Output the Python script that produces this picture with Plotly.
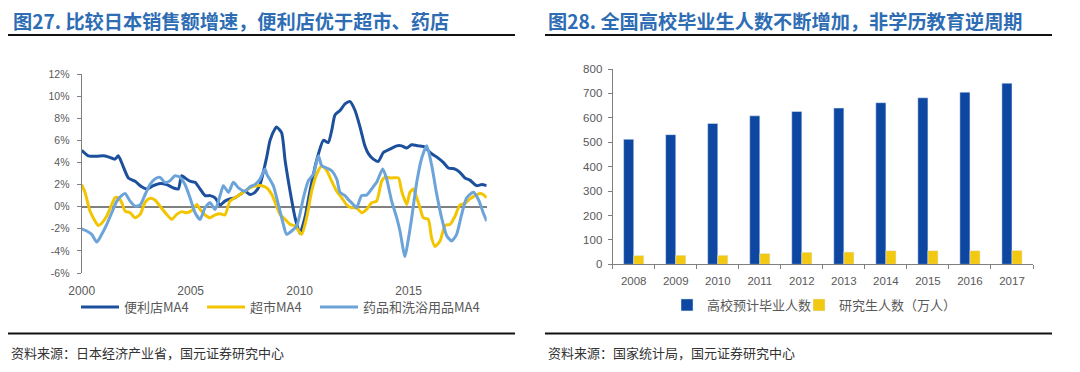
import plotly.graph_objects as go

# ---------------- data: left chart (Japan retail sales growth, MA4, %) ----------------
cvs_t = [2000.00, 2000.31, 2000.69, 2000.99, 2001.22, 2001.53, 2001.68, 2001.91, 2002.14, 2002.45,
         2002.75, 2002.98, 2003.29, 2003.59, 2003.90, 2004.20, 2004.43, 2004.59, 2004.74, 2004.97,
         2005.20, 2005.43, 2005.66, 2005.89, 2006.12, 2006.35, 2006.57, 2006.80, 2007.03, 2007.26,
         2007.49, 2007.72, 2007.95, 2008.18, 2008.33, 2008.49, 2008.64, 2008.87, 2008.94, 2009.17,
         2009.33, 2009.56, 2009.79, 2010.01, 2010.24, 2010.47, 2010.78, 2011.09, 2011.31, 2011.47,
         2011.62, 2011.85, 2012.08, 2012.31, 2012.54, 2012.77, 2012.99, 2013.15, 2013.38, 2013.61,
         2013.84, 2014.14, 2014.45, 2014.68, 2014.91, 2015.14, 2015.44, 2015.75, 2015.98, 2016.28,
         2016.59, 2016.82, 2017.13, 2017.35, 2017.58, 2017.81, 2018.12, 2018.35, 2018.58]
cvs_v = [5.1, 4.6, 4.55, 4.6, 4.5, 4.3, 4.6, 3.6, 2.6, 2.3,
         1.8, 1.6, 1.9, 2.1, 2.0, 1.7, 1.6, 2.8, 2.6, 2.3,
         2.2, 1.6, 1.0, 1.0, 0.8, 0.15, 0.5, 0.7, 0.8, 1.1,
         1.4, 1.1, 1.3, 2.0, 3.1, 4.5, 6.0, 7.05, 7.2, 6.7,
         4.2, 1.4, -1.0, -2.4, -1.0, 1.4, 4.2, 6.0, 5.8, 6.9,
         8.3, 8.7, 9.3, 9.5, 8.7, 7.2, 5.5, 4.8, 4.3, 4.1,
         4.9, 5.2, 5.5, 5.5, 5.3, 5.6, 5.5, 5.4, 4.9, 4.5,
         4.0, 3.5, 3.4, 3.1, 2.6, 2.4, 1.9, 2.0, 1.9]

sm_t = [2000.00, 2000.15, 2000.38, 2000.61, 2000.76, 2000.92, 2001.15, 2001.38, 2001.53, 2001.68,
        2001.83, 2001.99, 2002.22, 2002.45, 2002.68, 2002.91, 2003.13, 2003.36, 2003.59, 2003.90,
        2004.13, 2004.36, 2004.59, 2004.82, 2005.05, 2005.28, 2005.43, 2005.66, 2005.89, 2006.12,
        2006.35, 2006.57, 2006.80, 2007.03, 2007.26, 2007.49, 2007.72, 2008.03, 2008.26, 2008.49,
        2008.72, 2008.94, 2009.10, 2009.33, 2009.56, 2009.79, 2010.09, 2010.32, 2010.55, 2010.78,
        2011.01, 2011.24, 2011.47, 2011.70, 2011.93, 2012.16, 2012.39, 2012.61, 2012.84, 2013.07,
        2013.30, 2013.53, 2013.76, 2013.91, 2014.22, 2014.53, 2014.68, 2014.91, 2015.06, 2015.21,
        2015.37, 2015.52, 2015.67, 2015.90, 2016.05, 2016.21, 2016.44, 2016.67, 2016.90, 2017.13,
        2017.35, 2017.58, 2017.81, 2018.04, 2018.27, 2018.42, 2018.58]
sm_v = [2.0, 1.3, -0.4, -1.3, -1.7, -1.5, -0.85, 0.2, 0.8, 0.8,
        0.4, -0.4, -0.55, -1.0, -0.7, 0.4, 0.75, 0.6, 0.05, -0.7,
        -1.15, -0.7, -0.45, -0.55, -0.35, 0.2, -0.25, -0.75, -1.0, -0.75,
        -0.65, -0.75, 0.5, 0.8, 1.1, 1.4, 1.7, 1.9, 1.9, 1.7,
        1.1, 0.05, -0.7, -1.15, -1.6, -1.75, -2.5, -1.0, 1.4, 2.95,
        3.7, 3.25, 2.3, 1.4, 0.8, 0.15, -0.1, -0.1, -0.55, -0.25,
        0.35, 0.5, 2.3, 2.65, 2.6, 2.6, 1.4, 0.2, 1.3, 1.6,
        0.8, -0.1, -1.0, -1.15, -2.8, -3.6, -3.1, -1.7, -1.6, -0.85,
        0.15, 0.3, 0.7, 1.0, 1.2, 1.1, 0.8]

dr_t = [2000.00, 2000.23, 2000.46, 2000.69, 2000.92, 2001.15, 2001.38, 2001.61, 2001.83, 2001.99,
        2002.22, 2002.45, 2002.68, 2002.91, 2003.13, 2003.36, 2003.59, 2003.82, 2004.05, 2004.28,
        2004.51, 2004.74, 2004.97, 2005.20, 2005.43, 2005.66, 2005.89, 2006.12, 2006.35, 2006.50,
        2006.73, 2006.96, 2007.19, 2007.49, 2007.72, 2007.95, 2008.18, 2008.41, 2008.49, 2008.79,
        2009.02, 2009.25, 2009.40, 2009.63, 2009.86, 2010.01, 2010.17, 2010.40, 2010.63, 2010.86,
        2011.01, 2011.24, 2011.47, 2011.70, 2011.85, 2012.08, 2012.23, 2012.46, 2012.61, 2012.84,
        2013.07, 2013.30, 2013.53, 2013.81, 2013.99, 2014.22, 2014.45, 2014.60, 2014.83, 2014.98,
        2015.14, 2015.37, 2015.60, 2015.83, 2016.05, 2016.28, 2016.51, 2016.74, 2016.97, 2017.20,
        2017.43, 2017.66, 2017.97, 2018.20, 2018.42, 2018.58]
dr_v = [-2.0, -2.2, -2.5, -3.2, -2.5, -1.6, -0.55, 0.5, 1.0, 1.2,
        0.5, 0.05, 0.15, 1.1, 2.0, 2.5, 2.65, 2.2, 2.35, 2.8,
        2.65, 2.0, 0.8, -0.55, -1.15, -0.1, 0.35, -0.25, 1.0, 1.9,
        1.3, 2.2, 1.7, 1.4, 1.8, 2.0, 2.5, 3.4, 2.95, 1.9,
        0.2, -1.6, -2.5, -2.2, -1.75, -0.7, 0.8, 2.35, 2.95, 4.6,
        3.7, 3.5, 3.25, 2.5, 1.3, 1.0, 0.65, 0.2, -0.1, 1.0,
        1.05, 1.6, 2.2, 3.4, 2.5, 0.5, -1.0, -2.2, -4.5, -3.0,
        -1.0, 2.2, 4.4, 5.5, 3.8, 1.2, -1.0, -2.6, -3.1, -2.5,
        -0.7, 0.8, 1.3, 0.65, -0.55, -1.3]

left_xticks = [2000, 2005, 2010, 2015]
left_xticklabels = ["2000", "2005", "2010", "2015"]
left_yticks = [-6, -4, -2, 0, 2, 4, 6, 8, 10, 12]
left_yticklabels = ["-6%", "-4%", "-2%", "0%", "2%", "4%", "6%", "8%", "10%", "12%"]

# ---------------- data: right chart (graduates, 10k persons) ----------------
years = ["2008", "2009", "2010", "2011", "2012", "2013", "2014", "2015", "2016", "2017"]
grads = [512, 531, 577, 608, 626, 640, 662, 682, 705, 742]
postgrads = [36, 37, 37, 44, 49, 50, 56, 56, 56, 57]

titles = ["图27. 比较日本销售额增速，便利店优于超市、药店",
          "图28. 全国高校毕业生人数不断增加，非学历教育逆周期"]
sources = ["资料来源：日本经济产业省，国元证券研究中心",
           "资料来源：国家统计局，国元证券研究中心"]

# ---------------- styling ----------------
# the page body has an 8px margin, so the figure is sized to fit the window after it
OFF = 8
W, H = 1080 - OFF, 372 - OFF
DARK = "#1C4F9C"
YEL = "#F2C500"
LIGHT = "#6CA4DA"
BAR_BLUE = "#0D47A1"
BAR_YEL = "#F2C811"
GREY = "#808080"
TXT = "#595959"
TITLE_C = "#2E6DB4"
CJK = "Noto Sans CJK SC"
LAT = "Liberation Sans, Arial, sans-serif"


def px_x(p):
    return (p - OFF) / W


def px_y(p):
    return 1 - (p - OFF) / H


fig = go.Figure()

for t, v, name, col, lgd in [(cvs_t, cvs_v, "便利店MA4", DARK, "legend"),
                             (sm_t, sm_v, "超市MA4", YEL, "legend3"),
                             (dr_t, dr_v, "药品和洗浴用品MA4", LIGHT, "legend4")]:
    fig.add_trace(go.Scatter(x=t, y=v, mode="lines", name=name,
                             line=dict(color=col, width=3, shape="spline", smoothing=0.6),
                             xaxis="x", yaxis="y", legend=lgd, showlegend=True))

fig.add_trace(go.Bar(x=years, y=grads, name="高校预计毕业人数", marker_color=BAR_BLUE,
                     xaxis="x2", yaxis="y2", legend="legend2", showlegend=True))
fig.add_trace(go.Bar(x=years, y=postgrads, name="研究生人数（万人）", marker_color=BAR_YEL,
                     xaxis="x2", yaxis="y2", legend="legend5", showlegend=True))


def lg(xpx, ypx, iw=38):
    return dict(orientation="h", x=px_x(xpx), y=px_y(ypx), xanchor="left", yanchor="middle",
                font=dict(family=CJK, size=13, color=TXT), bgcolor="rgba(0,0,0,0)",
                borderwidth=0, itemwidth=iw, visible=True)


fig.update_layout(
    width=W, height=H,
    showlegend=True,
    margin=dict(l=0, r=0, t=0, b=0, autoexpand=False),
    paper_bgcolor="white", plot_bgcolor="white",
    barmode="group", bargap=0.52, bargroupgap=0.0,
    xaxis=dict(domain=[px_x(81.7), px_x(486.7)], range=[2000, 2018.58], automargin=False,
               tickmode="array", tickvals=left_xticks, ticktext=left_xticklabels,
               showgrid=False, zeroline=False, showline=False, ticks="",
               tickfont=dict(family=LAT, size=12, color=TXT), ticklabelstandoff=9),
    yaxis=dict(domain=[px_y(273), px_y(74)], range=[-6, 12], automargin=False,
               tickmode="array", tickvals=left_yticks, ticktext=left_yticklabels,
               showgrid=False, zeroline=True, zerolinecolor=GREY, zerolinewidth=1.5,
               showline=True, linecolor=GREY, linewidth=1.2,
               ticks="outside", ticklen=4, tickcolor=GREY, tickwidth=1.2,
               tickfont=dict(family=LAT, size=10.5, color=TXT), ticklabelstandoff=5),
    xaxis2=dict(domain=[px_x(612.7), px_x(1033)], anchor="y2", automargin=False,
                showgrid=False, zeroline=False, showline=True, linecolor=GREY, linewidth=1.2,
                ticks="outside", tickson="boundaries", ticklen=4, tickcolor=GREY, tickwidth=1.2,
                tickfont=dict(family=LAT, size=11.5, color=TXT), ticklabelstandoff=6),
    yaxis2=dict(domain=[px_y(264.3), px_y(69)], anchor="x2", range=[0, 800], dtick=100,
                automargin=False,
                showgrid=False, zeroline=False, showline=True, linecolor=GREY, linewidth=1.2,
                ticks="outside", ticklen=4, tickcolor=GREY, tickwidth=1.2,
                tickfont=dict(family=LAT, size=11.5, color=TXT), ticklabelstandoff=3),
    legend=lg(76, 307),
    legend3=lg(202, 307),
    legend4=lg(315, 307),
    legend2=lg(667, 305, 30),
    legend5=lg(799, 305, 30),
)

# titles
fig.add_annotation(text="<b>" + titles[0] + "</b>", x=px_x(11), y=px_y(21), xref="paper", yref="paper",
                   xanchor="left", yanchor="middle", showarrow=False,
                   font=dict(family=CJK, size=19.2, color=TITLE_C))
fig.add_annotation(text="<b>" + titles[1] + "</b>", x=px_x(546), y=px_y(21), xref="paper", yref="paper",
                   xanchor="left", yanchor="middle", showarrow=False,
                   font=dict(family=CJK, size=19.2, color=TITLE_C))
# sources
fig.add_annotation(text=sources[0], x=px_x(9), y=px_y(352), xref="paper", yref="paper",
                   xanchor="left", yanchor="middle", showarrow=False,
                   font=dict(family=CJK, size=13, color="#333333"))
fig.add_annotation(text=sources[1], x=px_x(546), y=px_y(352), xref="paper", yref="paper",
                   xanchor="left", yanchor="middle", showarrow=False,
                   font=dict(family=CJK, size=13, color="#333333"))

# separator lines
for x0, x1 in [(8, 515), (545, 1052)]:
    for yy in (35, 333.5):
        fig.add_shape(type="line", xref="paper", yref="paper",
                      x0=px_x(x0), x1=px_x(x1), y0=px_y(yy), y1=px_y(yy),
                      line=dict(color="#111111", width=2))

fig.write_html("out.html")
